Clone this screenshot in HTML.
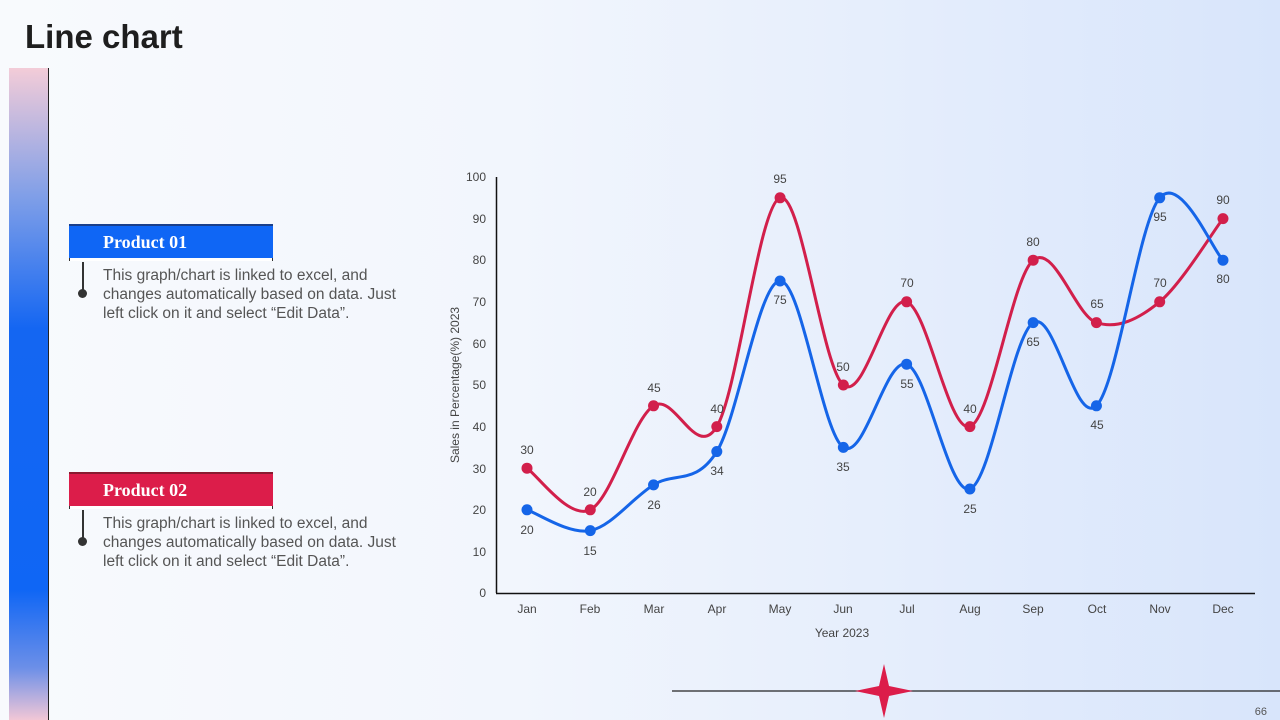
<!DOCTYPE html>
<html><head><meta charset="utf-8"><style>
body{margin:0;width:1280px;height:720px;overflow:hidden;position:relative;font-family:"Liberation Sans",sans-serif;background:linear-gradient(90deg,#f8fafd 0%,#f2f6fd 40%,#d8e5fb 100%);}
.title{position:absolute;left:25px;top:18px;font-size:33px;font-weight:bold;color:#1e1e1e;letter-spacing:0px}
.bar{position:absolute;left:9px;top:68px;width:39px;height:652px;background:linear-gradient(180deg,#f3ccd8 0%,#7e9ee8 20%,#1466f2 40%,#0f66f5 80%,#6c8fe8 92%,#f2c7d6 100%);border-right:1.5px solid #222}
.box{position:absolute;left:69px;width:204px;height:34px;border-bottom:1px solid #333;}
.box .in{height:32px;color:#fff;font-family:"Liberation Serif",serif;font-weight:bold;font-size:18px;line-height:32px;padding-left:34px;border-top:2px solid #1a3f8a}
.box .strip{height:3px;background:#fff;border-left:1px solid #333;border-right:1px solid #333}
.desc{position:absolute;left:103px;width:305px;font-size:15.5px;line-height:19px;color:#555}
.vl{position:absolute;left:82px;width:1.5px;background:#333}
.dot{position:absolute;left:78px;width:9px;height:9px;border-radius:50%;background:#333}
</style></head><body>
<div class="title">Line chart</div>
<div class="bar"></div>
<div class="box" style="top:224px"><div class="in" style="background:#0f66f5">Product 01</div><div class="strip"></div></div>
<div class="vl" style="top:262px;height:32px"></div><div class="dot" style="top:289px"></div>
<div class="desc" style="top:266px">This graph/chart is linked to excel, and changes automatically based on data. Just left click on it and select “Edit Data”.</div>
<div class="box" style="top:472px"><div class="in" style="background:#dc1d4a;border-top-color:#8a1a30">Product 02</div><div class="strip"></div></div>
<div class="vl" style="top:510px;height:32px"></div><div class="dot" style="top:537px"></div>
<div class="desc" style="top:514px">This graph/chart is linked to excel, and changes automatically based on data. Just left click on it and select “Edit Data”.</div>

<svg width="1280" height="720" style="position:absolute;left:0;top:0" font-family="Liberation Sans, sans-serif">
<g font-size="12" fill="#444" text-anchor="end">
<text x="486" y="181">100</text><text x="486" y="223">90</text><text x="486" y="264">80</text><text x="486" y="306">70</text><text x="486" y="348">60</text><text x="486" y="389">50</text><text x="486" y="431">40</text><text x="486" y="473">30</text><text x="486" y="514">20</text><text x="486" y="556">10</text><text x="486" y="597">0</text>
</g>
<line x1="496.5" y1="177" x2="496.5" y2="593" stroke="#111" stroke-width="1.5"/>
<line x1="496" y1="593.5" x2="1255" y2="593.5" stroke="#111" stroke-width="1.5"/>
<g font-size="12" fill="#444" text-anchor="middle">
<text x="527" y="613">Jan</text><text x="590" y="613">Feb</text><text x="654" y="613">Mar</text><text x="717" y="613">Apr</text><text x="780" y="613">May</text><text x="843" y="613">Jun</text><text x="907" y="613">Jul</text><text x="970" y="613">Aug</text><text x="1033" y="613">Sep</text><text x="1097" y="613">Oct</text><text x="1160" y="613">Nov</text><text x="1223" y="613">Dec</text>
<text x="842" y="637">Year 2023</text>
<text transform="translate(459,385) rotate(-90)">Sales in Percentage(%) 2023</text>
</g>
<path id="red" fill="none" stroke="#d21f4b" stroke-width="3"/>
<path id="blue" fill="none" stroke="#1565e8" stroke-width="3"/>
<g id="dots"></g>
<g font-size="12" fill="#444" text-anchor="middle">
<text x="527" y="454">30</text><text x="590" y="496">20</text><text x="654" y="392">45</text><text x="717" y="413">40</text><text x="780" y="183">95</text><text x="843" y="371">50</text><text x="907" y="287">70</text><text x="970" y="413">40</text><text x="1033" y="246">80</text><text x="1097" y="308">65</text><text x="1160" y="287">70</text><text x="1223" y="204">90</text>
<text x="527" y="534">20</text><text x="590" y="555">15</text><text x="654" y="509">26</text><text x="717" y="475">34</text><text x="780" y="304">75</text><text x="843" y="471">35</text><text x="907" y="388">55</text><text x="970" y="513">25</text><text x="1033" y="346">65</text><text x="1097" y="429">45</text><text x="1160" y="221">95</text><text x="1223" y="283">80</text>
</g>
<line x1="672" y1="691" x2="1280" y2="691" stroke="#222" stroke-width="1.2"/>
<path d="M884 664 L889 686 L913 691 L889 696 L884 718 L879 696 L855 691 L879 686 Z" fill="#dc1d4a"/>
<text x="1267" y="715" font-size="11" fill="#555" text-anchor="end">66</text>
</svg>
<script>
var X=[],i;for(i=0;i<12;i++)X.push(527+63.27*i);
function Y(v){return 593-4.16*v}
function path(vals){var p=vals.map(function(v,i){return [X[i],Y(v)]});var d="M"+p[0][0]+" "+p[0][1];
for(var i=0;i<p.length-1;i++){var p0=p[Math.max(0,i-1)],p1=p[i],p2=p[i+1],p3=p[Math.min(p.length-1,i+2)];
var c1=[p1[0]+(p2[0]-p0[0])/6,p1[1]+(p2[1]-p0[1])/6],c2=[p2[0]-(p3[0]-p1[0])/6,p2[1]-(p3[1]-p1[1])/6];
d+=" C"+c1+" "+c2+" "+p2;}return d}
var R=[30,20,45,40,95,50,70,40,80,65,70,90],B=[20,15,26,34,75,35,55,25,65,45,95,80];
document.getElementById('red').setAttribute('d',path(R));
document.getElementById('blue').setAttribute('d',path(B));
var g=document.getElementById('dots'),s="";
for(i=0;i<12;i++){s+='<circle cx="'+X[i]+'" cy="'+Y(R[i])+'" r="5.5" fill="#d21f4b"/>';s+='<circle cx="'+X[i]+'" cy="'+Y(B[i])+'" r="5.5" fill="#1565e8"/>';}
g.innerHTML=s;
</script>
</body></html>
